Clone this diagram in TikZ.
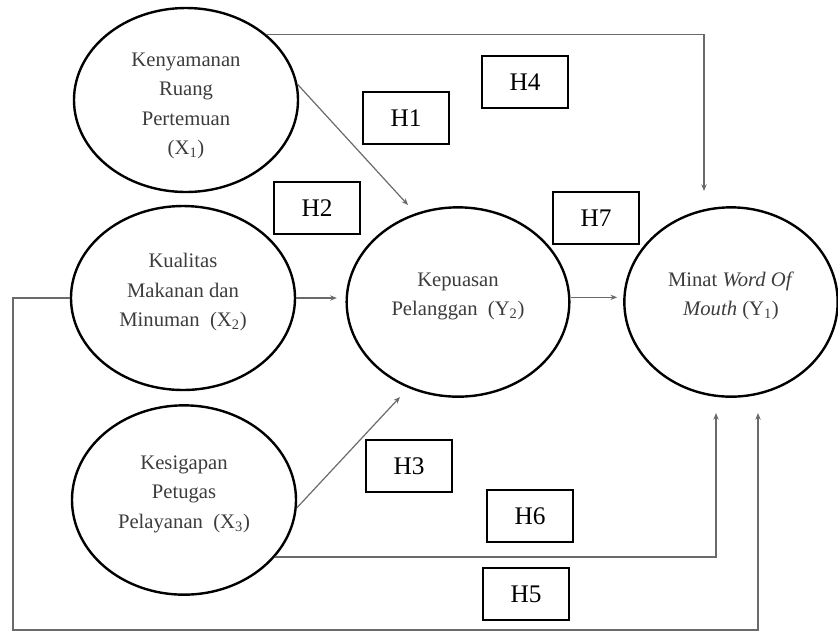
\documentclass[tikz,border=0pt]{standalone}
\usepackage{fontspec}
\setmainfont{Liberation Serif}
\usetikzlibrary{arrows.meta, positioning, shapes.geometric}
\definecolor{LineGray}{HTML}{6A6A6A}
\definecolor{TextGray}{HTML}{3C3C3C}

\begin{document}
\begin{tikzpicture}[
    x=0.75pt, y=-0.75pt,
    construct/.style={
        ellipse, draw=black, line width=1.8pt, inner sep=0pt,
        align=center, text=TextGray, font=\fontsize{15.5}{22}\selectfont
    },
    raised/.style={text depth=12pt},
    hyp/.style={
        draw=black, line width=1pt, minimum width=64.5pt, minimum height=39pt,
        font=\fontsize{19}{22}\selectfont
    },
    arr/.style={-{Stealth[length=5pt, width=4pt]}, draw=LineGray, line width=0.9pt},
]
\useasboundingbox (0,0) rectangle (838,633);

% =============================================
% Constructs (exogenous, left column)
% =============================================
\node[construct, text height=85pt, minimum width=168pt, minimum height=138pt] (x1) at (186,100)
    {Kenyamanan\\Ruang\\Pertemuan\\(X\textsubscript{1})};
\node[construct, raised, minimum width=168pt, minimum height=138pt] (x2) at (183,298)
    {Kualitas\\Makanan dan\\Minuman~~(X\textsubscript{2})};
\node[construct, raised, minimum width=168pt, minimum height=142pt] (x3) at (184,500)
    {Kesigapan\\Petugas\\Pelayanan~~(X\textsubscript{3})};

% =============================================
% Mediator and outcome
% =============================================
\node[construct, raised, minimum width=167pt, minimum height=142pt] (y2) at (458,302)
    {Kepuasan\\Pelanggan~~(Y\textsubscript{2})};
\node[construct, raised, minimum width=160pt, minimum height=142pt] (y1) at (731,302)
    {Minat \textit{Word Of}\\\textit{Mouth} (Y\textsubscript{1})};

% =============================================
% Hypothesis labels
% =============================================
\node[hyp] (h1) at (406,118) {H1};
\node[hyp] (h2) at (317,208) {H2};
\node[hyp] (h3) at (409,466) {H3};
\node[hyp] (h4) at (525,82) {H4};
\node[hyp] (h5) at (526,594) {H5};
\node[hyp] (h6) at (530,516) {H6};
\node[hyp] (h7) at (596,218) {H7};

% =============================================
% Free ends of the paths
% =============================================
\coordinate (h1tip) at (408,205);
\coordinate (h3tip) at (400,397);
\coordinate (h4tip) at (704,191);
\coordinate (h6tip) at (716,413);
\coordinate (h5corner) at (13,630);
\coordinate (h5tip) at (758,413);

% X -> Y2
\draw[arr] (x1.8) -- (h1tip);
\draw[arr, shorten >=6.5pt] (x2.east) -- (x2.east -| y2.west);
\draw[arr] (x3.-4) -- (h3tip);

% Y2 -> Y1
\draw[arr, shorten >=4.5pt] ([yshift=3.5pt]y2.east) -- ([yshift=3.5pt]y1.west);

% X -> Y1 (direct)
\draw[arr] (x1.north east) -| (h4tip);
\draw[arr] (x3.-32) -| (h6tip);
\draw[arr] (x2.west) -| (h5corner) -| (h5tip);

\end{tikzpicture}
\end{document}
